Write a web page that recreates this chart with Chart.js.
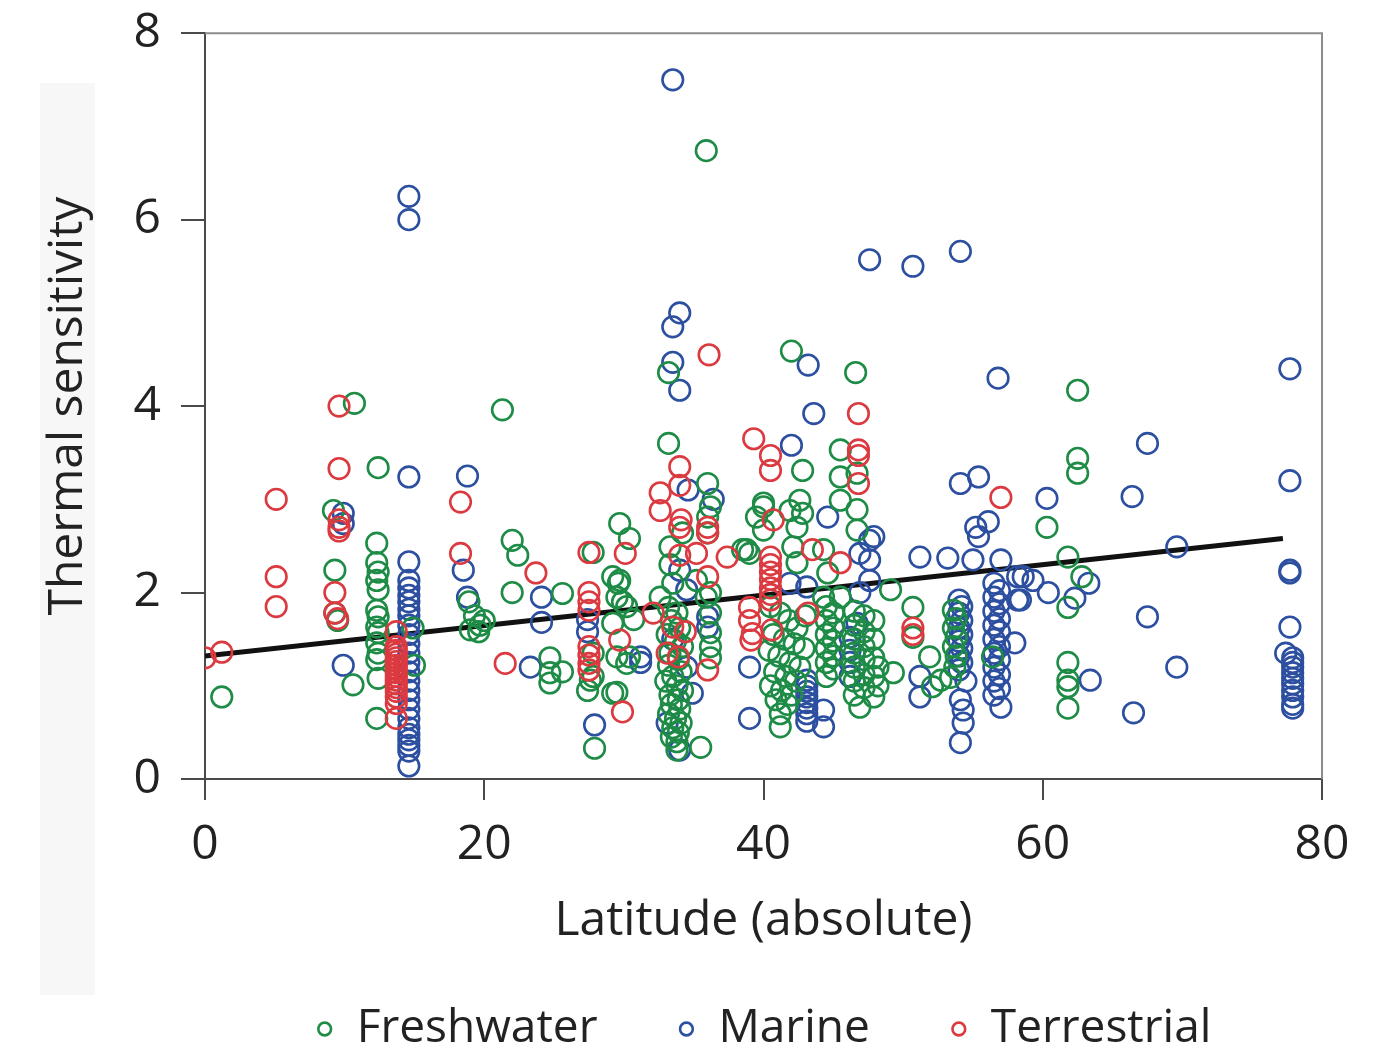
<!DOCTYPE html>
<html>
<head>
<meta charset="utf-8">
<title>Thermal sensitivity vs latitude</title>
<script src="https://cdn.jsdelivr.net/npm/chart.js@4.4.1/dist/chart.umd.min.js"></script>
<style>
    html, body { margin: 0; padding: 0; background: #fff; }
    .wrap { position: relative; width: 1399px; height: 1057px; }
    .side-shade { position: absolute; left: 40px; top: 83px; width: 55px; height: 912px; background: #f7f7f7; }
    #chart { position: absolute; left: 0; top: 0; }
</style>
</head>
<body>
<div class="wrap">
    <div class="side-shade"></div>
    <canvas id="chart" width="1399" height="1057"></canvas>
</div>
<script>
// ── Data (latitude, thermal sensitivity) ──────────────────────────────────────
const seriesNames = ["Freshwater", "Marine", "Terrestrial"];

const freshwater = [
    [1.2, 0.88], [10.7, 4.03], [9.2, 2.88], [9.3, 2.24], [9.3, 1.78], [9.5, 1.70],
    [12.4, 3.34], [12.3, 2.53], [12.3, 2.32], [12.4, 2.22], [12.3, 2.13], [12.4, 2.03],
    [12.3, 1.81], [12.4, 1.74], [12.3, 1.63], [12.4, 1.57], [12.3, 1.46], [12.4, 1.35],
    [12.3, 1.28], [12.4, 1.08], [12.3, 0.65], [10.6, 1.01], [14.9, 1.62], [15.0, 1.22],
    [18.9, 1.90], [19.3, 1.75], [19.7, 1.65], [19.0, 1.60], [19.6, 1.58], [20.0, 1.70],
    [21.3, 3.96], [22.0, 2.56], [22.4, 2.40], [22.0, 2.00],
    [25.6, 1.99], [24.7, 1.30], [24.7, 1.14], [25.6, 1.15], [24.7, 1.03],
    [27.9, 0.33], [27.4, 0.95], [27.6, 1.06], [27.8, 1.35], [27.8, 1.10], [27.8, 2.43],
    [29.7, 2.74], [30.4, 2.58], [29.7, 2.13], [29.5, 1.95], [30.2, 1.85], [30.7, 1.71],
    [29.5, 1.31], [29.5, 0.93], [30.2, 1.24], [29.2, 2.17], [29.6, 2.10], [29.9, 1.90],
    [29.2, 1.67], [30.4, 1.31], [29.2, 0.92],
    [33.2, 4.36], [33.2, 3.60], [35.9, 6.74],
    [36.0, 3.17], [36.2, 2.92], [36.0, 2.64], [36.2, 2.00], [36.2, 1.78], [36.2, 1.57],
    [36.2, 1.42], [36.2, 1.30], [35.5, 0.34], [33.8, 0.31],
    [33.3, 2.49], [34.2, 2.64], [36.0, 2.81], [33.3, 2.30], [33.5, 2.10], [35.2, 2.13],
    [35.9, 1.95], [32.6, 1.95],
    [33.2, 1.84], [33.8, 1.78], [33.4, 1.70], [34.0, 1.62], [33.1, 1.55], [33.7, 1.48],
    [34.2, 1.42], [33.3, 1.35], [33.9, 1.28], [33.2, 1.22], [34.1, 1.15], [33.5, 1.10],
    [33.0, 1.05], [33.8, 1.00], [34.2, 0.95], [33.3, 0.90], [33.9, 0.85], [33.4, 0.80],
    [34.0, 0.75], [33.2, 0.70], [33.7, 0.65], [34.1, 0.60], [33.5, 0.55], [33.9, 0.50],
    [33.4, 0.45], [33.8, 0.40],
    [38.8, 2.46], [39.5, 2.81], [40.0, 2.92], [39.0, 2.42],
    [42.0, 4.59], [46.6, 4.36],
    [42.8, 3.31], [45.5, 3.53], [45.5, 3.24], [46.7, 3.28], [45.5, 2.99], [46.7, 2.89],
    [46.7, 2.67], [40.0, 2.96], [42.6, 2.99], [41.9, 2.88], [42.8, 2.85], [40.0, 2.67],
    [42.4, 2.70], [42.1, 2.49], [38.5, 2.46], [44.3, 2.46], [42.4, 2.32], [44.6, 2.21],
    [44.3, 1.95], [45.5, 1.95],
    [40.5, 1.85], [41.2, 1.78], [41.8, 1.70], [42.4, 1.62], [40.7, 1.55], [41.5, 1.50],
    [42.2, 1.45], [40.4, 1.38], [41.1, 1.32], [41.9, 1.25], [42.6, 1.20], [40.8, 1.15],
    [41.6, 1.10], [42.3, 1.05], [40.5, 1.00], [41.3, 0.95], [42.0, 0.90], [40.9, 0.85],
    [41.7, 0.80], [41.2, 0.70], [41.2, 0.56], [42.9, 1.40], [43.0, 1.75],
    [44.5, 1.85], [44.5, 1.70], [44.5, 1.55], [44.5, 1.40], [44.5, 1.25], [44.5, 1.10],
    [45.0, 1.78], [45.0, 1.62], [45.0, 1.48], [45.0, 1.32], [45.0, 1.18],
    [46.5, 1.80], [46.5, 1.65], [46.5, 1.50], [46.5, 1.35], [46.5, 1.20], [46.5, 1.05],
    [46.5, 0.90], [46.9, 0.77],
    [47.2, 1.75], [47.2, 1.58], [47.2, 1.42], [47.2, 1.28], [47.2, 1.12], [47.2, 0.98],
    [47.9, 1.70], [47.9, 1.50], [47.9, 1.30], [47.9, 1.10], [47.9, 0.88], [48.2, 1.20],
    [48.2, 1.00],
    [49.1, 2.03], [50.7, 1.84], [50.7, 1.52], [51.9, 1.31], [52.7, 1.06], [52.1, 0.99],
    [53.4, 1.09], [49.3, 1.14],
    [53.6, 1.81], [53.8, 1.72], [53.6, 1.62], [53.8, 1.52], [53.6, 1.42], [53.8, 1.32],
    [53.7, 1.20], [56.4, 1.31],
    [60.3, 2.70], [61.8, 2.38], [62.8, 2.17], [61.8, 1.84], [61.8, 1.25], [61.8, 1.06],
    [61.8, 0.99], [61.8, 0.76], [62.5, 4.17], [62.5, 3.44], [62.5, 3.28],
];

const marine = [
    [33.5, 7.50], [14.6, 6.25], [14.6, 6.00], [14.6, 3.24],
    [14.6, 2.33], [14.6, 2.13], [14.6, 2.05], [14.6, 1.97], [14.6, 1.90], [14.6, 1.82],
    [14.6, 1.75], [14.6, 1.65], [14.6, 1.55], [14.6, 1.45], [14.6, 1.35], [14.6, 1.25],
    [14.6, 1.15], [14.6, 1.05], [14.6, 0.95], [14.6, 0.85], [14.6, 0.75], [14.6, 0.65],
    [14.6, 0.55], [14.6, 0.48], [14.6, 0.42], [14.6, 0.36], [14.6, 0.30], [14.6, 0.14],
    [9.9, 2.85], [9.9, 2.74], [9.9, 1.22],
    [18.8, 3.25], [18.5, 2.24], [18.8, 1.95],
    [24.1, 1.95], [24.1, 1.68], [23.3, 1.20],
    [27.4, 1.71], [27.4, 1.58], [27.9, 0.58],
    [34.0, 4.17], [34.0, 5.00], [33.5, 4.85], [33.5, 4.47],
    [31.2, 1.31], [31.2, 1.25], [36.4, 3.00], [34.6, 3.10], [36.0, 1.63], [36.0, 1.74],
    [34.0, 2.24], [34.5, 2.03], [34.9, 0.92], [33.1, 0.60], [34.0, 0.31], [33.5, 1.50],
    [34.5, 1.20],
    [39.0, 0.65], [39.0, 1.20],
    [42.0, 3.58], [43.2, 4.44], [43.6, 3.92], [44.6, 2.81], [47.9, 2.60], [47.6, 2.35],
    [46.9, 2.42], [46.9, 2.00], [43.1, 2.06], [41.9, 2.10],
    [43.1, 1.06], [43.1, 1.00], [43.1, 0.94], [43.1, 0.88], [43.1, 0.82], [43.1, 0.76],
    [43.1, 0.70], [43.1, 0.62], [44.3, 0.74], [44.3, 0.56],
    [46.2, 1.52], [46.2, 1.38], [46.7, 1.67], [46.2, 1.10], [46.2, 1.25],
    [47.6, 5.57], [50.7, 5.50], [54.1, 5.66],
    [56.8, 4.30], [54.1, 3.17], [55.4, 3.24], [60.3, 3.01], [55.2, 2.70], [56.1, 2.76],
    [55.4, 2.60],
    [51.2, 2.38], [53.2, 2.37], [55.0, 2.35], [57.0, 2.35], [58.6, 2.17], [59.3, 2.13],
    [60.4, 2.00], [58.4, 1.92], [47.6, 2.56], [47.6, 2.13],
    [54.0, 1.92], [54.2, 1.85], [54.0, 1.78], [54.2, 1.70], [54.0, 1.62], [54.2, 1.55],
    [54.0, 1.48], [54.2, 1.40], [54.0, 1.32], [54.2, 1.25], [54.0, 1.17], [54.5, 1.05],
    [54.1, 0.85], [54.3, 0.74], [54.3, 0.60], [54.1, 0.39],
    [51.2, 1.10], [51.2, 0.88],
    [56.5, 2.10], [56.9, 2.02], [56.5, 1.95], [56.9, 1.88], [56.5, 1.80], [56.9, 1.72],
    [56.5, 1.65], [56.9, 1.58], [56.5, 1.50], [56.9, 1.42], [56.5, 1.35], [56.9, 1.28],
    [56.5, 1.20], [56.9, 1.12], [56.5, 1.05], [56.9, 0.97], [56.5, 0.90], [57.0, 0.77],
    [58.0, 1.46], [58.2, 2.17], [58.2, 1.92],
    [77.7, 4.40], [77.7, 3.20], [67.5, 3.60], [66.4, 3.03], [69.6, 2.49], [77.7, 2.24],
    [77.7, 2.21], [67.5, 1.74], [77.7, 1.63], [69.6, 1.20], [66.5, 0.71], [63.4, 1.06],
    [63.3, 2.10], [62.3, 1.94],
    [77.4, 1.35], [77.9, 1.30], [77.9, 1.25], [77.9, 1.20], [77.9, 1.14], [77.9, 1.08],
    [77.9, 1.02], [77.9, 0.95], [77.9, 0.88], [77.9, 0.80], [77.9, 0.76],
];

const terrestrial = [
    [0.0, 1.30], [1.2, 1.36], [5.1, 3.00], [5.1, 2.17], [5.1, 1.85],
    [9.6, 4.00], [9.6, 3.33], [9.6, 2.78], [9.6, 2.70], [9.6, 2.66], [9.3, 2.00],
    [9.3, 1.78], [9.5, 1.72],
    [13.7, 1.58], [13.7, 1.42], [13.7, 1.38], [13.7, 1.34], [13.7, 1.30], [13.7, 1.26],
    [13.7, 1.22], [13.7, 1.18], [13.7, 1.14], [13.7, 1.10], [13.7, 1.06], [13.7, 1.02],
    [13.7, 0.98], [13.7, 0.94], [13.7, 0.88], [13.7, 0.81], [13.7, 0.65],
    [18.3, 2.97], [18.3, 2.42], [21.5, 1.24], [23.7, 2.21],
    [27.5, 2.43], [27.5, 2.00], [27.5, 1.90], [27.5, 1.81], [27.5, 1.42], [27.5, 1.33],
    [27.5, 1.24], [27.5, 1.17],
    [30.1, 2.42], [29.7, 1.49], [29.9, 0.72], [32.1, 1.78], [32.6, 3.07], [32.6, 2.88],
    [34.0, 3.35], [34.0, 3.15], [34.1, 2.78], [34.0, 2.70], [36.0, 2.70], [36.0, 2.64],
    [34.0, 2.40], [35.2, 2.42], [37.4, 2.38], [36.0, 2.17], [33.5, 1.63], [34.4, 1.58],
    [33.1, 1.35], [33.9, 1.31], [36.0, 1.17], [36.1, 4.55],
    [39.3, 3.65], [40.5, 3.47], [40.5, 3.31], [40.7, 2.78], [43.5, 2.46], [45.5, 2.32],
    [40.5, 2.38], [40.5, 2.30], [40.5, 2.22], [40.5, 2.14], [40.5, 2.05], [40.5, 1.98],
    [40.5, 1.92], [39.0, 1.84], [39.0, 1.70], [39.2, 1.56], [39.1, 1.49], [40.6, 1.60],
    [43.2, 1.78],
    [46.8, 3.92], [46.8, 3.53], [46.8, 3.47], [46.8, 3.17],
    [50.7, 1.62], [50.7, 1.55], [57.0, 3.02],
];

// fitted trend line end points
const trendX = [0, 77.2];
const trendY = [1.32, 2.58];

const xTicks = [0, 20, 40, 60, 80];
const yTicks = [0, 2, 4, 6, 8];

// ── Styling ───────────────────────────────────────────────────────────────────
const colors = { Freshwater: "#1e8c46", Marine: "#2c4fa0", Terrestrial: "#db3a40" };
const AXIS = "#4a4a4a";
const TEXT = "#222";
const FONT = "'Open Sans', sans-serif";

const toPoints = (pairs) => pairs.map(([x, y]) => ({ x, y }));

function scatterSet(label, pairs, order) {
    return {
        type: "scatter",
        label,
        data: toPoints(pairs),
        order,
        borderColor: colors[label],
        backgroundColor: "rgba(0,0,0,0)",
        borderWidth: 2.6,
        pointRadius: 10.3,
        pointHoverRadius: 10.3,
        pointStyle: "circle",
    };
}

// top/right frame of the plot box
const frame = {
    id: "frame",
    beforeDatasetsDraw(chart) {
        const { ctx, chartArea: a } = chart;
        ctx.save();
        ctx.strokeStyle = "#8c8c8c";
        ctx.lineWidth = 2;
        ctx.beginPath();
        ctx.moveTo(a.left, a.top);
        ctx.lineTo(a.right, a.top);
        ctx.lineTo(a.right, a.bottom);
        ctx.stroke();
        ctx.restore();
    },
};

new Chart(document.getElementById("chart"), {
    data: {
        datasets: [
            scatterSet("Freshwater", freshwater, 2),
            scatterSet("Marine", marine, 3),
            scatterSet("Terrestrial", terrestrial, 1),
            {
                type: "line",
                label: "trend",
                data: trendX.map((x, i) => ({ x, y: trendY[i] })),
                order: 4,
                borderColor: "#111",
                borderWidth: 5,
                pointRadius: 0,
                fill: false,
            },
        ],
    },
    options: {
        responsive: false,
        animation: false,
        events: [],
        layout: { padding: { top: 0, right: 77, left: 0, bottom: -5 } },
        plugins: {
            tooltip: { enabled: false },
            legend: {
                position: "bottom",
                fullSize: false,
                labels: {
                    filter: (item) => seriesNames.includes(item.text),
                    sort: (a, b) => a.datasetIndex - b.datasetIndex,
                    usePointStyle: true,
                    boxWidth: 18,
                    boxHeight: 9,
                    padding: 80,
                    color: TEXT,
                    font: { family: FONT, size: 46 },
                },
            },
        },
        scales: {
            x: {
                type: "linear",
                min: 0,
                max: 80,
                afterBuildTicks: (s) => { s.ticks = xTicks.map((v) => ({ value: v })); },
                afterFit: (s) => { s.height = 147; },
                grid: { drawOnChartArea: false, tickLength: 21, color: AXIS, lineWidth: 2 },
                border: { color: AXIS, width: 2 },
                ticks: { color: TEXT, padding: 17, font: { family: FONT, size: 48 } },
                title: {
                    display: true,
                    text: "Latitude (absolute)",
                    color: TEXT,
                    font: { family: FONT, size: 48, lineHeight: 0.2 },
                    padding: 0,
                },
            },
            y: {
                type: "linear",
                min: 0,
                max: 8,
                afterBuildTicks: (s) => { s.ticks = yTicks.map((v) => ({ value: v })); },
                afterFit: (s) => { s.width = 205; },
                grid: { drawOnChartArea: false, tickLength: 24, color: AXIS, lineWidth: 2 },
                border: { color: AXIS, width: 2 },
                ticks: { color: TEXT, padding: 20, font: { family: FONT, size: 48, lineHeight: 0.55 } },
                title: {
                    display: true,
                    text: "Thermal sensitivity",
                    color: TEXT,
                    font: { family: FONT, size: 48, lineHeight: 1 },
                    padding: { top: 44, bottom: 0 },
                },
            },
        },
    },
    plugins: [frame],
});
</script>
</body>
</html>
